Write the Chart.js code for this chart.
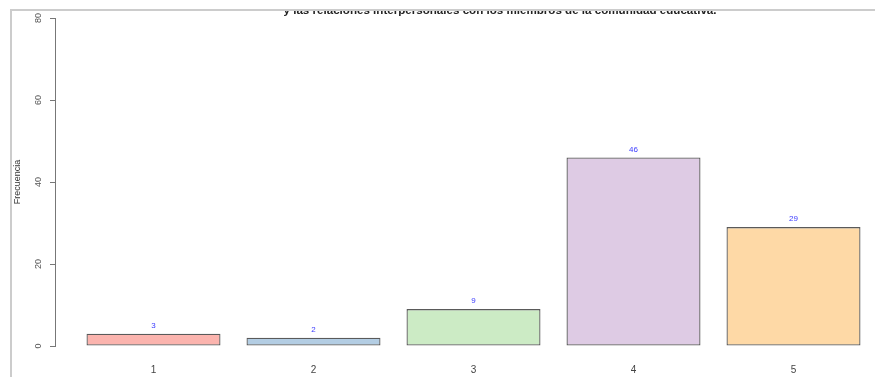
<!DOCTYPE html>
<html>
<head>
<meta charset="utf-8">
<script src="https://cdn.jsdelivr.net/npm/chart.js@4/dist/chart.umd.min.js"></script>
<style>
  html, body { margin: 0; padding: 0; background: #ffffff; }
  canvas { display: block; }
</style>
</head>
<body>
<canvas id="chart" width="875" height="377"></canvas>
<script>
// Respuestas (escala 1-5) y su frecuencia
const categorias = [1, 2, 3, 4, 5];
const frecuencias = [3, 2, 9, 46, 29];
const coloresBarras = ['#FBB4AE', '#B3CDE3', '#CCEBC5', '#DECBE4', '#FED9A6'];
const ticksY = [0, 20, 40, 60, 80];
const titulo = 'y las relaciones interpersonales con los miembros de la comunidad educativa.';
const tituloEje = 'Frecuencia';

// Marco gris y título (la parte superior queda recortada por el marco)
const marcoYTitulo = {
  id: 'marcoYTitulo',
  afterDraw(chart) {
    const ctx = chart.ctx;
    ctx.save();
    ctx.beginPath();
    ctx.rect(0, 11, chart.width, 30);
    ctx.clip();
    ctx.fillStyle = '#222';
    ctx.font = 'bold 11.6px "Liberation Sans", Arial, sans-serif';
    ctx.textAlign = 'center';
    ctx.textBaseline = 'alphabetic';
    ctx.fillText(titulo, 500, 14);
    ctx.restore();

    ctx.save();
    ctx.strokeStyle = '#cccccc';
    ctx.lineWidth = 2;
    ctx.beginPath();
    ctx.moveTo(11, chart.height);
    ctx.lineTo(11, 10);
    ctx.lineTo(chart.width, 10);
    ctx.stroke();
    ctx.restore();
  }
};

// Valor de cada barra encima de ella
const etiquetasValor = {
  id: 'etiquetasValor',
  afterDatasetsDraw(chart) {
    const ctx = chart.ctx;
    const meta = chart.getDatasetMeta(0);
    ctx.save();
    ctx.fillStyle = '#3a3aff';
    ctx.font = '8px "Liberation Sans", Arial, sans-serif';
    ctx.textAlign = 'center';
    ctx.textBaseline = 'middle';
    meta.data.forEach((bar, i) => {
      ctx.fillText(String(frecuencias[i]), bar.x, bar.y - 8);
    });
    ctx.restore();
  }
};

const datos = categorias.map((c, i) => ({ x: c, y: frecuencias[i] }));

new Chart(document.getElementById('chart'), {
  type: 'bar',
  data: {
    datasets: [{
      data: datos,
      backgroundColor: coloresBarras,
      borderColor: '#5a5a5a',
      borderWidth: 1.3,
      borderSkipped: false,
      barPercentage: 0.8375,
      categoryPercentage: 1
    }]
  },
  options: {
    responsive: false,
    devicePixelRatio: 1,
    animation: false,
    layout: { padding: { left: 8, top: 18, right: 0, bottom: 0 } },
    plugins: {
      legend: { display: false },
      tooltip: { enabled: false },
      title: { display: false }
    },
    scales: {
      x: {
        type: 'linear',
        offset: false,
        min: 0.384375,
        max: 5.509375,
        afterBuildTicks(scale) {
          scale.ticks = categorias.map(v => ({ value: v }));
        },
        afterFit(scale) { scale.height = 31; },
        grid: { display: false, offset: false },
        border: { display: false },
        ticks: {
          padding: 10,
          color: '#444',
          font: { size: 10, family: '"Liberation Sans", Arial, sans-serif' },
          callback: v => String(v),
          maxRotation: 0,
          minRotation: 0
        }
      },
      y: {
        min: 0,
        max: 80,
        afterBuildTicks(scale) {
          scale.ticks = ticksY.map(v => ({ value: v }));
        },
        afterFit(scale) { scale.width = 47; },
        grid: {
          drawOnChartArea: false,
          drawTicks: true,
          tickLength: 5,
          color: '#777'
        },
        border: { display: true, color: '#777', width: 1 },
        ticks: {
          minRotation: 90,
          maxRotation: 90,
          crossAlign: 'center',
          padding: 6,
          color: '#555',
          font: { size: 9, family: '"Liberation Sans", Arial, sans-serif' }
        },
        title: {
          display: true,
          text: tituloEje,
          color: '#333',
          padding: { top: 4, bottom: 0 },
          font: { size: 9, family: '"Liberation Sans", Arial, sans-serif' }
        }
      }
    }
  },
  plugins: [etiquetasValor, marcoYTitulo]
});
</script>
</body>
</html>
